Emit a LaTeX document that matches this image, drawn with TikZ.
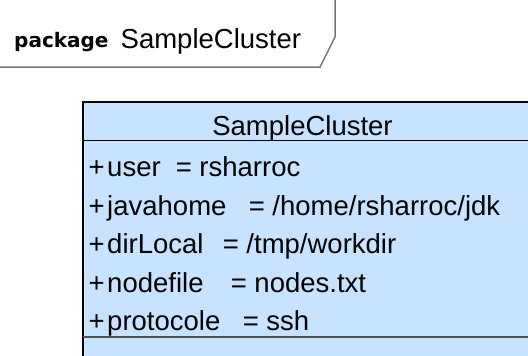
\documentclass[tikz,border=0pt]{standalone}
\usepackage{fontspec}
\setmainfont{Liberation Sans}
\newfontfamily\pkgfont{DejaVu Sans}
\usepackage{xcolor}
\usetikzlibrary{positioning}
\definecolor{classfill}{RGB}{199,227,255}
\definecolor{tabgray}{RGB}{118,118,118}
\definecolor{sepgray}{RGB}{80,80,80}

\begin{document}
\begin{tikzpicture}[
    x=1pt, y=-1pt,
    tabline/.style={draw=tabgray, line width=1.5pt},
    classbox/.style={draw=black, fill=classfill, line width=2pt},
    keyword/.style={anchor=base west, inner sep=0pt, font=\pkgfont\bfseries\fontsize{20}{24}\selectfont},
    umltext/.style={anchor=base west, inner sep=0pt, font=\fontsize{27.5}{33}\selectfont}
]
\useasboundingbox (0,0) rectangle (528,356);
\clip (0,0) rectangle (528,356);

% package tab
\draw[tabline] (335,-5) -- (335,37) -- (320,67) -- (-5,67);
\node[keyword] (pkgkw) at (14,47) {package};
\node[umltext] (pkgname) at (120.5,48) {SampleCluster};

% class box
\draw[classbox] (83,102) rectangle (580,400);
\node[umltext, anchor=base] (title) at (302.5,135) {SampleCluster};
\draw[line width=1pt] (83,140) -- (580,140);

% attributes
\node[umltext] (user) at (88.5,176.5) {+\kern2.5pt user};
\node[umltext] (uservalue) at (175.6,176.5) {= rsharroc};
\node[umltext] (javahome) at (88.5,215) {+\kern2.5pt javahome};
\node[umltext] (javahomevalue) at (248.6,215) {= /home/rsharroc/jdk};
\node[umltext] (dirlocal) at (88.5,253.5) {+\kern2.5pt dirLocal};
\node[umltext] (dirlocalvalue) at (222.6,253.5) {= /tmp/workdir};
\node[umltext] (nodefile) at (88.5,292) {+\kern2.5pt nodefile};
\node[umltext] (nodefilevalue) at (230.6,292) {= nodes.txt};
\node[umltext] (protocole) at (88.5,330) {+\kern2.5pt protocole};
\node[umltext] (protocolevalue) at (242.6,330) {= ssh};

% operations compartment
\draw[draw=sepgray, line width=1.5pt] (83,337) -- (580,337);

\end{tikzpicture}
\end{document}
